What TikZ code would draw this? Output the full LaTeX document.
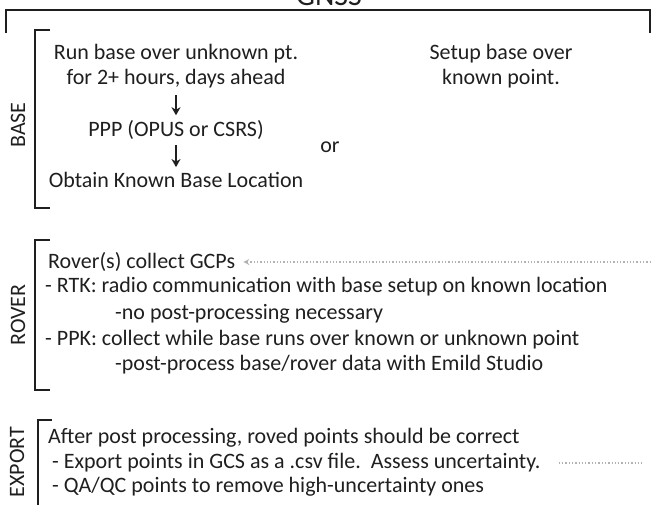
\documentclass[tikz,border=0pt]{standalone}
\usepackage{fontspec}
\setmainfont{Carlito}
\usetikzlibrary{positioning,arrows.meta}

\tikzset{
  txt/.style   = {font=\fontsize{22}{25}\selectfont, inner sep=0pt, text=black!88},
  lbl/.style   = {txt, rotate=90},
  frame/.style = {draw=black!88, line width=2pt},
  dots/.style  = {draw=gray!60, dotted, line width=1.3pt}
}

\begin{document}
\begin{tikzpicture}[x=1pt, y=-1pt, >={Stealth[length=8pt, width=9pt, inset=2.5pt]}]
\useasboundingbox (0,0) rectangle (651,504);

% title and outer frame
\node[txt, font=\fontsize{30}{32}\selectfont, anchor=base] (title) at (329,5) {GNSS};
\draw[frame] (6,33) |- (650,10) -- (650,33);

% BASE section
\draw[frame] (50,30) -| (35,208) -- (50,208);
\node[lbl] (base) at (18,125) {BASE};
\node[txt, align=center] (run) at (176,66) {Run base over unknown pt.\\for 2+ hours, days ahead};
\node[txt] (ppp) at (176,130) {PPP (OPUS or CSRS)};
\node[txt] (known) at (176,180) {Obtain Known Base Location};
\node[txt, align=center] (setup) at (501,66) {Setup base over\\known point.};
\node[txt] (or) at (330,147) {or};
\draw[->, line width=1.6pt, draw=black!88, shorten <=7pt, shorten >=5pt] (run) -- (ppp);
\draw[->, line width=1.6pt, draw=black!88, shorten <=5pt, shorten >=5pt] (ppp) -- (known);

% ROVER section
\draw[frame] (50,240) -| (35,390) -- (50,390);
\node[lbl] (rover) at (18,315) {ROVER};
\begin{scope}[every node/.style={txt, anchor=west}]
\node (gcp)  at (48,262)  {Rover(s) collect GCPs};
\node (rtk)  at (45,287)  {- RTK: radio communication with base setup on known location};
\node (rtk2) at (115,314) {-no post-processing necessary};
\node (ppk)  at (45,340)  {- PPK: collect while base runs over known or unknown point};
\node (ppk2) at (115,365) {-post-process base/rover data with Emild Studio};
\end{scope}
\coordinate (gcpin) at (651,262);
\draw[dots, <-, >={Stealth[open, length=6pt, width=6pt]}, shorten <=8pt] (gcp) -- (gcpin);

% EXPORT section
\draw[frame] (52,420) -| (38,506);
\node[lbl] (export) at (17,462) {EXPORT};
\begin{scope}[every node/.style={txt, anchor=west}]
\node (after) at (48,438) {After post processing, roved points should be correct};
\node (csv)   at (52,463) {- Export points in GCS as a .csv file.\ \ Assess uncertainty.};
\node (qaqc)  at (52,487) {- QA/QC points to remove high-uncertainty ones};
\end{scope}
\coordinate (csvout) at (642,463);
\draw[dots, shorten <=18pt] (csv) -- (csvout);
\end{tikzpicture}
\end{document}
